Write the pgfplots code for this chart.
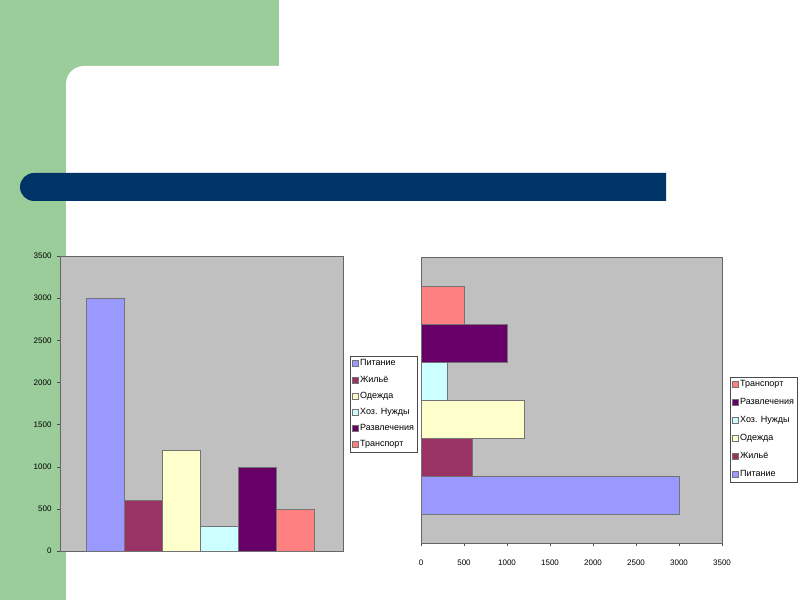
\documentclass[border=0pt]{standalone}
\usepackage{pgfplots}
\pgfplotsset{compat=1.18}
\usepackage{fontspec}
\setmainfont{Liberation Sans}
\definecolor{bggreen}{RGB}{155,205,155}
\definecolor{barblue}{RGB}{0,51,102}
\definecolor{pit}{RGB}{153,153,255}
\definecolor{zhil}{RGB}{153,51,102}
\definecolor{odezh}{RGB}{255,255,204}
\definecolor{hoz}{RGB}{204,255,255}
\definecolor{razv}{RGB}{102,0,102}
\definecolor{trans}{RGB}{255,128,128}
\definecolor{plotgray}{RGB}{192,192,192}
\begin{document}
\begin{tikzpicture}
\begin{scope}[x=1pt,y=1pt]
\fill[bggreen] (0,0) rectangle (800,600);
\fill[white] (279,600) -- (800,600) -- (800,0) -- (66,0) -- (66,516) arc[start angle=180,end angle=90,radius=18] -- (279,534) -- cycle;
\fill[barblue] (666,399) -- (34,399) arc[start angle=270,end angle=90,radius=14] -- (666,427) -- cycle;
\end{scope}
\begin{axis}[at={(60pt,49pt)}, anchor=south west, scale only axis,
  width=283pt, height=295pt,
  ybar=0pt, bar width=38pt,
  xmin=0, xmax=1, ymin=0, ymax=3500,
  xtick=\empty, ytick={0,500,...,3500}, ytick pos=left,
  tick align=outside, major tick length=3pt,
  axis background/.style={fill=plotgray},
  axis line style={black!60}, tick style={black!70},
  ticklabel style={font=\fontsize{8}{9}\selectfont},
  yticklabel style={xshift=-2pt},
  scaled y ticks=false,
  /pgf/number format/assume math mode=true,
  /pgf/number format/1000 sep={},
  every axis plot/.append style={draw=black!55, line width=0.4pt},
  legend image code/.code={\draw[#1] (0pt,-3pt) rectangle (6pt,3pt);},
  legend cell align=left,
  legend style={at={(1,1)}, anchor=north west, xshift=7pt, yshift=-100pt,
    draw=black!70, fill=white, font=\fontsize{9}{10}\selectfont,
    inner sep=1.5pt, row sep=4.5pt},
]
\addplot[fill=pit] coordinates {(0.495,3000)};
\addplot[fill=zhil] coordinates {(0.495,600)};
\addplot[fill=odezh] coordinates {(0.495,1200)};
\addplot[fill=hoz] coordinates {(0.495,300)};
\addplot[fill=razv] coordinates {(0.495,1000)};
\addplot[fill=trans] coordinates {(0.495,500)};
\legend{Питание,Жильё,Одежда,Хоз. Нужды,Развлечения,Транспорт}
\end{axis}
\begin{axis}[at={(421pt,57pt)}, anchor=south west, scale only axis,
  width=301pt, height=286pt,
  xbar=0pt, bar width=38pt,
  ymin=0, ymax=1, xmin=0, xmax=3500,
  ytick=\empty, xtick={0,500,...,3500}, xtick pos=bottom,
  tick align=outside, major tick length=3pt,
  axis background/.style={fill=plotgray},
  axis line style={black!60}, tick style={black!70},
  ticklabel style={font=\fontsize{8}{9}\selectfont},
  xticklabel style={yshift=-10pt},
  scaled x ticks=false,
  /pgf/number format/assume math mode=true,
  /pgf/number format/1000 sep={},
  every axis plot/.append style={draw=black!55, line width=0.4pt},
  legend image code/.code={\draw[#1] (0pt,-3pt) rectangle (6pt,3pt);},
  legend cell align=left, reverse legend,
  legend style={at={(1,1)}, anchor=north west, xshift=8pt, yshift=-120pt,
    draw=black!70, fill=white, font=\fontsize{9}{10}\selectfont,
    inner sep=1.5pt, row sep=6.3pt},
]
\addplot[fill=pit] coordinates {(3000,0.5)};
\addplot[fill=zhil] coordinates {(600,0.5)};
\addplot[fill=odezh] coordinates {(1200,0.5)};
\addplot[fill=hoz] coordinates {(300,0.5)};
\addplot[fill=razv] coordinates {(1000,0.5)};
\addplot[fill=trans] coordinates {(500,0.5)};
\legend{Питание,Жильё,Одежда,Хоз. Нужды,Развлечения,Транспорт}
\end{axis}
\end{tikzpicture}
\end{document}
